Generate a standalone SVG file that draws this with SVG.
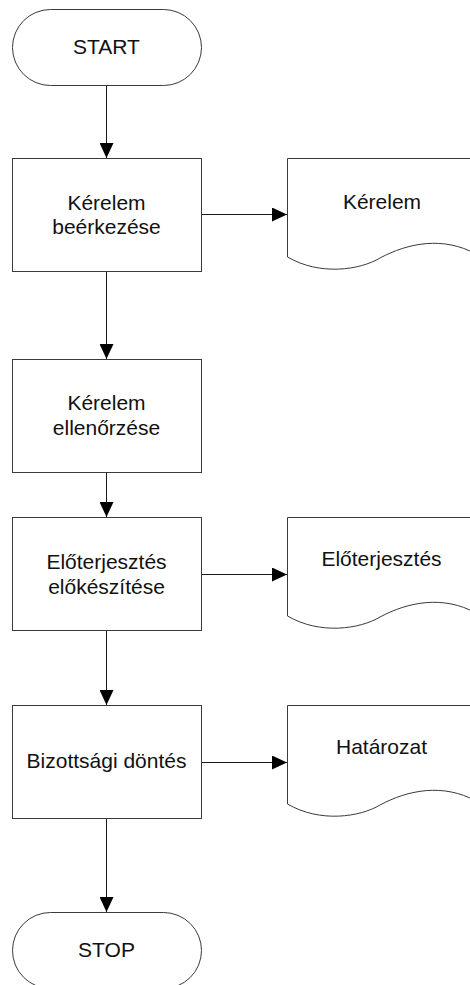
<svg xmlns="http://www.w3.org/2000/svg" width="470" height="985" viewBox="0 0 470 985">
  <defs>
    <marker id="arrow" viewBox="0 0 15 14" refX="15" refY="7" markerWidth="15" markerHeight="14" markerUnits="userSpaceOnUse" orient="auto">
      <path d="M0,0 L15,7 L0,14 Z" fill="#000"/>
    </marker>
    <style>
      .shape { fill: #fff; stroke: #3a3a3a; stroke-width: 1; }
      .link { fill: none; stroke: #1a1a1a; stroke-width: 1; marker-end: url(#arrow); }
      .label { font-family: "Liberation Sans", Arial, sans-serif; font-size: 21px; fill: #111; text-anchor: middle; }
    </style>
  </defs>

  <rect width="470" height="985" fill="#fff"/>

  <!-- connectors -->
  <g id="connectors">
    <line class="link" x1="106.5" y1="85" x2="106.5" y2="158"/>
    <line class="link" x1="201" y1="214.5" x2="287" y2="214.5"/>
    <line class="link" x1="106.5" y1="271" x2="106.5" y2="359"/>
    <line class="link" x1="106.5" y1="472" x2="106.5" y2="517"/>
    <line class="link" x1="201" y1="574.5" x2="287" y2="574.5"/>
    <line class="link" x1="106.5" y1="630" x2="106.5" y2="705"/>
    <line class="link" x1="201" y1="762.5" x2="287" y2="762.5"/>
    <line class="link" x1="106.5" y1="818" x2="106.5" y2="912"/>
  </g>

  <!-- terminals -->
  <g id="start">
    <rect class="shape" x="12.5" y="9.5" width="189" height="76" rx="38" ry="38"/>
    <text class="label" x="106.5" y="54">START</text>
  </g>
  <g id="stop">
    <rect class="shape" x="12.5" y="912.5" width="189" height="76" rx="38" ry="38"/>
    <text class="label" x="106.5" y="957">STOP</text>
  </g>

  <!-- process steps -->
  <g id="kerelem-beerkezese">
    <rect class="shape" x="12.5" y="158.5" width="189" height="113"/>
    <text class="label" x="106.5" y="210">Kérelem</text>
    <text class="label" x="106.5" y="234">beérkezése</text>
  </g>
  <g id="kerelem-ellenorzese">
    <rect class="shape" x="12.5" y="359.5" width="189" height="113"/>
    <text class="label" x="106.5" y="410">Kérelem</text>
    <text class="label" x="106.5" y="435">ellenőrzése</text>
  </g>
  <g id="eloterjesztes-elokeszitese">
    <rect class="shape" x="12.5" y="517.5" width="189" height="113"/>
    <text class="label" x="106.5" y="569">Előterjesztés</text>
    <text class="label" x="106.5" y="594">előkészítése</text>
  </g>
  <g id="bizottsagi-dontes">
    <rect class="shape" x="12.5" y="705.5" width="189" height="113"/>
    <text class="label" x="106.5" y="768">Bizottsági döntés</text>
  </g>

  <!-- documents -->
  <g id="doc-kerelem">
    <path class="shape" d="M287.5,257 V158.5 H476 V254 C443,236 408,243 380,258 C360,270 320,276 287.5,257 Z"/>
    <text class="label" x="382" y="209">Kérelem</text>
  </g>
  <g id="doc-eloterjesztes">
    <path class="shape" d="M287.5,616 V517.5 H476 V613 C443,595 408,602 380,617 C360,629 320,635 287.5,616 Z"/>
    <text class="label" x="381.5" y="566">Előterjesztés</text>
  </g>
  <g id="doc-hatarozat">
    <path class="shape" d="M287.5,804 V705.5 H476 V801 C443,783 408,790 380,805 C360,817 320,823 287.5,804 Z"/>
    <text class="label" x="381.5" y="754">Határozat</text>
  </g>
</svg>
